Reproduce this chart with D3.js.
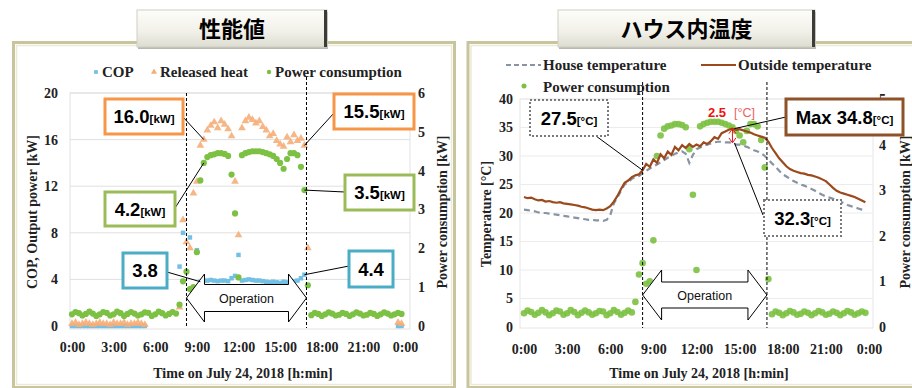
<!DOCTYPE html>
<html>
<head>
<meta charset="utf-8">
<script src="https://cdn.jsdelivr.net/npm/d3@7"></script>
<style>
  body { margin: 0; background: #ffffff; }
  svg { display: block; }
</style>
</head>
<body>
<script>
// ---- Data: 15-minute samples on July 24, 2018 (index i -> i/4 hours) ----
const hours = d3.range(96).map(i => i / 4);

// Power consumption [kW]
const power = [
  0.30,0.36,0.33,0.27,0.31,0.37,0.32,0.26,0.30,0.36,0.34,0.27,0.30,0.37,0.33,0.26,
  0.31,0.36,0.32,0.27,0.30,0.35,0.34,0.26,0.30,0.37,0.33,0.27,0.31,0.36,0.32,
  0.55,1.15,1.40,0.95,1.00,1.90,3.75,4.20,4.35,4.40,4.42,4.45,4.45,4.43,4.38,3.90,
  2.90,1.25,4.40,4.45,4.48,4.50,4.50,4.50,4.48,4.45,4.42,4.38,4.30,4.20,4.05,4.30,
  4.45,4.45,4.40,4.10,3.50,1.05,
  0.28,0.34,0.31,0.26,0.30,0.35,0.32,0.27,0.29,0.34,0.31,0.26,0.30,0.35,0.32,0.27,
  0.29,0.34,0.31,0.26,0.30,0.35,0.32,0.27,0.30,0.34,0.31
];

// Released heat [kW]
const heat = [
  0.2,0.3,0.1,0.2,0.3,0.2,0.1,0.2,0.3,0.2,0.2,0.1,0.3,0.2,0.2,0.3,0.1,0.2,0.2,0.3,0.2,0.1,
  null,null,null,null,null,null,null,null,null,
  1.6,9.1,7.2,6.7,11.4,12.4,15.5,16.0,16.8,17.2,17.5,17.0,17.6,17.3,16.9,16.3,
  12.4,7.8,17.0,17.6,17.9,17.7,17.4,17.6,17.1,16.8,16.3,16.5,15.9,15.6,15.4,16.2,
  15.8,16.4,15.9,16.1,15.5,6.7,
  null,null,null,null,null,null,null,null,null,null,null,null,null,
  null,null,null,null,null,null,null,null,null,null,null,null,
  0.3,0.2
];

// COP
const cop = [
  0.0,0.0,0.0,0.0,0.0,0.0,0.0,0.0,0.0,0.0,0.0,0.0,0.0,0.0,0.0,0.0,0.0,0.0,0.0,0.0,0.0,0.0,
  null,null,null,null,null,null,null,null,null,
  5.1,8.0,null,7.6,null,6.5,3.8,3.9,3.9,3.95,3.9,3.85,3.9,3.9,3.85,4.1,
  4.3,6.1,3.9,3.95,4.0,3.95,3.9,3.9,3.85,3.8,3.75,3.8,3.75,3.7,3.8,3.75,
  3.8,3.85,3.9,4.1,4.4,null,
  null,null,null,null,null,null,null,null,null,null,null,null,null,
  null,null,null,null,null,null,null,null,null,null,null,null,
  0.0,0.0
];

// Outside temperature [°C]
const outsideTemp = [
  22.8,22.6,22.7,22.4,22.2,22.3,22.0,22.1,21.9,21.8,21.9,21.7,21.6,21.5,21.4,21.3,
  21.1,21.0,20.8,20.6,20.5,20.6,20.5,20.8,21.2,22.0,23.0,24.2,25.3,25.7,26.3,26.6,
  26.8,27.5,28.6,28.1,29.4,28.8,30.3,29.6,30.8,30.2,31.6,31.0,31.9,31.4,32.1,31.6,
  32.0,31.7,32.4,32.1,32.6,33.3,33.0,34.0,34.3,34.6,34.8,34.6,34.7,34.5,34.3,34.1,
  33.8,33.6,33.4,33.2,32.5,31.4,30.5,29.6,28.9,28.2,27.7,27.4,27.2,27.0,26.9,26.7,
  26.6,26.4,26.2,25.9,25.6,25.0,24.4,23.9,23.6,23.4,23.2,23.0,22.8,22.5,22.2,21.9
];

// House temperature [°C]
const houseTemp = [
  20.6,20.5,20.4,20.3,20.1,20.0,20.0,19.9,19.8,19.7,19.6,19.5,19.4,19.3,19.2,19.1,
  19.0,18.9,18.8,18.8,18.7,18.7,18.6,18.8,19.6,21.7,22.7,23.9,25.0,25.4,26.0,26.3,
  26.5,27.0,27.4,27.8,28.2,28.5,28.9,29.3,29.7,30.0,30.4,30.6,30.8,30.4,28.8,30.2,
  31.2,31.5,31.8,32.0,32.2,32.4,32.5,32.5,32.4,32.4,32.3,32.0,32.0,31.8,31.6,31.3,
  31.0,30.8,30.5,30.0,29.4,28.7,28.1,27.4,26.8,26.4,26.0,25.6,25.3,25.0,24.8,24.5,
  24.2,23.9,23.5,23.2,22.9,22.7,22.5,22.3,22.0,21.7,21.4,21.2,21.0,20.8,20.6,20.4
];

// Axis ticks and labels
const timeTicks = [0, 3, 6, 9, 12, 15, 18, 21, 24];
const timeLabels = ["0:00", "3:00", "6:00", "9:00", "12:00", "15:00", "18:00", "21:00", "0:00"];
const leftTicksL = [0, 4, 8, 12, 16, 20];
const rightTicksL = [0, 1, 2, 3, 4, 5, 6];
const leftTicksR = [0, 5, 10, 15, 20, 25, 30, 35, 40];
const rightTicksR = [0, 1, 2, 3, 4, 5];

// Operation period [h]
const opStart = 8.25, opEnd = 16.9;

// ---- Styles ----
const SERIF = "'Liberation Serif','Times New Roman',serif";
const SANS = "'Liberation Sans',Arial,sans-serif";
const CJK = "'Noto Sans CJK JP',sans-serif";
const C_COP = "#72c0e3", C_HEAT = "#f6ae78", C_PWR = "#7cc143";
const C_OUT = "#9b4a1d", C_HOUSE = "#8893a3";
const fmtInt = d3.format("d");

const svg = d3.select("body").append("svg").attr("width", 912).attr("height", 388);
const defs = svg.append("defs");
const tg = defs.append("linearGradient").attr("id", "tgrad").attr("x1", 0).attr("y1", 0).attr("x2", 0).attr("y2", 1);
tg.append("stop").attr("offset", "0%").attr("stop-color", "#fdfdfa");
tg.append("stop").attr("offset", "60%").attr("stop-color", "#f1f0e8");
tg.append("stop").attr("offset", "100%").attr("stop-color", "#dddcd0");

const pts = arr => hours.map((h, i) => [h, arr[i]]).filter(d => d[1] != null);
const sym = (type, size) => d3.symbol().type(type).size(size)();

function panel(x, y, w, h) {
  svg.append("rect").attr("x", x).attr("y", y).attr("width", w).attr("height", h)
    .attr("fill", "#ffffff").attr("stroke", "#c8c49c").attr("stroke-width", 3);
  svg.append("rect").attr("x", x + 3).attr("y", y + 3).attr("width", w - 6).attr("height", h - 6)
    .attr("fill", "none").attr("stroke", "#ebe9d8").attr("stroke-width", 1.5);
}

function titleBox(x, y, w, h, label) {
  svg.append("rect").attr("x", x + 1).attr("y", y + 2).attr("width", w).attr("height", h).attr("fill", "#b8b8ae");
  svg.append("rect").attr("x", x).attr("y", y).attr("width", w).attr("height", h)
    .attr("fill", "url(#tgrad)").attr("stroke", "#cfcfc6").attr("stroke-width", 1);
  svg.append("rect").attr("x", x + w - 3).attr("y", y).attr("width", 3).attr("height", h).attr("fill", "#3b3b37");
  svg.append("text").attr("x", x + w / 2).attr("y", y + h / 2 + 8).attr("text-anchor", "middle")
    .attr("font-family", CJK).attr("font-weight", 700).attr("font-size", 22).attr("fill", "#000").text(label);
}

function styleAxis(g) {
  g.select(".domain").remove();
  g.selectAll(".tick line").remove();
  g.selectAll("text").attr("font-family", SERIF).attr("font-weight", 700).attr("font-size", 14).attr("fill", "#222");
}

function vTitle(x, y, label) {
  svg.append("text").attr("transform", `translate(${x},${y}) rotate(-90)`).attr("dy", "0.35em")
    .attr("text-anchor", "middle").attr("font-family", SERIF).attr("font-weight", 700)
    .attr("font-size", 14).attr("fill", "#222").text(label);
}

function annBox(x, y, w, h, stroke, dashed, num, unit, strokeW) {
  svg.append("rect").attr("x", x).attr("y", y).attr("width", w).attr("height", h)
    .attr("fill", "#ffffff").attr("stroke", stroke).attr("stroke-width", strokeW || 3)
    .attr("stroke-dasharray", dashed ? "2,2" : null);
  const t = svg.append("text").attr("x", x + w / 2).attr("y", y + h / 2 + 6.5).attr("text-anchor", "middle")
    .attr("font-family", SANS).attr("font-weight", 700).attr("fill", "#000");
  t.append("tspan").attr("font-size", 18.5).text(num);
  if (unit) t.append("tspan").attr("font-size", 11.5).text(unit);
}

function leader(x1, y1, x2, y2) {
  svg.append("line").attr("x1", x1).attr("y1", y1).attr("x2", x2).attr("y2", y2)
    .attr("stroke", "#000").attr("stroke-width", 1);
}

function opArrow(x1, x2, yc, hh, sh, hl) {
  const p = `M${x1},${yc} L${x1 + hl},${yc - hh} L${x1 + hl},${yc - sh} L${x2 - hl},${yc - sh} L${x2 - hl},${yc - hh} ` +
            `L${x2},${yc} L${x2 - hl},${yc + hh} L${x2 - hl},${yc + sh} L${x1 + hl},${yc + sh} L${x1 + hl},${yc + hh} Z`;
  svg.append("path").attr("d", p).attr("fill", "#ffffff").attr("stroke", "#000").attr("stroke-width", 1);
  svg.append("text").attr("x", (x1 + x2) / 2).attr("y", yc + 4.5).attr("text-anchor", "middle")
    .attr("font-family", SANS).attr("font-size", 12.5).attr("fill", "#111").text("Operation");
}

function dashV(x, y1, y2) {
  svg.append("line").attr("x1", x).attr("x2", x).attr("y1", y1).attr("y2", y2)
    .attr("stroke", "#000").attr("stroke-width", 1).attr("stroke-dasharray", "3,2");
}

// ================= Left panel: 性能値 =================
panel(13.5, 42.5, 441, 345);

const xL = d3.scaleLinear().domain([0, 24]).range([72, 405]);
const yL = d3.scaleLinear().domain([0, 20]).range([326, 93]);
const yL2 = d3.scaleLinear().domain([0, 6]).range([326, 93]);

// plot frame and gridlines
svg.append("rect").attr("x", 70).attr("y", 93).attr("width", 340).attr("height", 236)
  .attr("fill", "none").attr("stroke", "#e2e2e2");
svg.append("g").selectAll("line").data(leftTicksL.slice(1)).join("line")
  .attr("x1", 70).attr("x2", 410).attr("y1", d => yL(d)).attr("y2", d => yL(d))
  .attr("stroke", "#e0e0e0");

styleAxis(svg.append("g").attr("transform", "translate(70,0)")
  .call(d3.axisLeft(yL).tickValues(leftTicksL).tickFormat(fmtInt).tickSize(0).tickPadding(12)));
styleAxis(svg.append("g").attr("transform", "translate(410,0)")
  .call(d3.axisRight(yL2).tickValues(rightTicksL).tickFormat(fmtInt).tickSize(0).tickPadding(8)));
styleAxis(svg.append("g").attr("transform", "translate(0,330)")
  .call(d3.axisBottom(xL).tickValues(timeTicks).tickFormat((d, i) => timeLabels[i]).tickSize(0).tickPadding(12)));

vTitle(32, 212, "COP, Output power [kW]");
vTitle(442, 212, "Power consumption [kW]");
svg.append("text").attr("x", 243).attr("y", 378).attr("text-anchor", "middle")
  .attr("font-family", SERIF).attr("font-weight", 700).attr("font-size", 14).attr("fill", "#222")
  .text("Time on July 24, 2018 [h:min]");

// legend
const legL = svg.append("g").attr("font-family", SERIF).attr("font-weight", 700).attr("font-size", 15).attr("fill", "#222");
legL.append("path").attr("d", sym(d3.symbolSquare, 14)).attr("transform", "translate(96,72)").attr("fill", C_COP);
legL.append("text").attr("x", 102).attr("y", 77).text("COP");
legL.append("path").attr("d", sym(d3.symbolTriangle, 16)).attr("transform", "translate(154,72)").attr("fill", C_HEAT);
legL.append("text").attr("x", 160).attr("y", 77).text("Released heat");
legL.append("circle").attr("cx", 269).attr("cy", 72).attr("r", 2.2).attr("fill", C_PWR);
legL.append("text").attr("x", 275).attr("y", 77).text("Power consumption");

// series
const gL = svg.append("g");
gL.selectAll(".cop").data(pts(cop)).join("path").attr("class", "cop")
  .attr("d", sym(d3.symbolSquare, 20)).attr("fill", C_COP)
  .attr("transform", d => `translate(${xL(d[0])},${yL(d[1])})`);
gL.selectAll(".heat").data(pts(heat)).join("path").attr("class", "heat")
  .attr("d", sym(d3.symbolTriangle, 26)).attr("fill", C_HEAT).attr("opacity", 0.9)
  .attr("transform", d => `translate(${xL(d[0])},${yL(d[1])})`);
gL.selectAll(".pwr").data(pts(power)).join("circle").attr("class", "pwr")
  .attr("cx", d => xL(d[0])).attr("cy", d => yL2(d[1])).attr("r", 3.1).attr("fill", C_PWR);

dashV(xL(opStart), 93, 328);
dashV(xL(opEnd), 77, 328);
opArrow(xL(opStart), xL(opEnd), 298, 24, 13.5, 18);

// annotations (values taken from the series they point to)
const iStart = 38, iStartCop = 37, iEnd = 67;
leader(183, 117, xL(hours[iStart]), yL(heat[iStart]));
annBox(105, 99, 78, 35, "#f79646", false, heat[iStart].toFixed(1), "[kW]");
leader(334, 113, xL(hours[iEnd]), yL(heat[iEnd]));
annBox(334, 94, 80, 35, "#f79646", false, heat[iEnd].toFixed(1), "[kW]");
leader(175, 208, xL(hours[iStart]), yL2(power[iStart]));
annBox(105, 192, 70, 34, "#9bbb59", false, power[iStart].toFixed(1), "[kW]");
leader(345, 192, xL(hours[iEnd]), yL2(power[iEnd]));
annBox(345, 175, 69, 35, "#9bbb59", false, power[iEnd].toFixed(1), "[kW]");
leader(167, 272, xL(hours[iStartCop]), yL(cop[iStartCop]));
annBox(123, 253, 44, 35, "#4bacc6", false, cop[iStartCop].toFixed(1), null);
leader(349, 266, xL(hours[iEnd]), yL(cop[iEnd]));
annBox(349, 251, 44, 36, "#4bacc6", false, cop[iEnd].toFixed(1), null);

// ================= Right panel: ハウス内温度 =================
panel(468, 42.5, 470, 345);

const xR = d3.scaleLinear().domain([0, 24]).range([524, 869]);
const yR = d3.scaleLinear().domain([0, 40]).range([327, 99]);
const yR2 = d3.scaleLinear().domain([0, 5]).range([327, 99]);

svg.append("rect").attr("x", 520).attr("y", 99).attr("width", 353).attr("height", 229)
  .attr("fill", "none").attr("stroke", "#e6e6e6");
svg.append("g").selectAll("line").data(leftTicksR.slice(1)).join("line")
  .attr("x1", 520).attr("x2", 873).attr("y1", d => yR(d)).attr("y2", d => yR(d))
  .attr("stroke", "#ececec");

styleAxis(svg.append("g").attr("transform", "translate(520,0)")
  .call(d3.axisLeft(yR).tickValues(leftTicksR).tickFormat(fmtInt).tickSize(0).tickPadding(7)));
styleAxis(svg.append("g").attr("transform", "translate(873,0)")
  .call(d3.axisRight(yR2).tickValues(rightTicksR).tickFormat(fmtInt).tickSize(0).tickPadding(6)));
styleAxis(svg.append("g").attr("transform", "translate(0,331)")
  .call(d3.axisBottom(xR).tickValues(timeTicks).tickFormat((d, i) => timeLabels[i]).tickSize(0).tickPadding(13)));

vTitle(486, 214, "Temperature [°C]");
vTitle(905, 212, "Power consumption [kW]");
svg.append("text").attr("x", 699).attr("y", 378).attr("text-anchor", "middle")
  .attr("font-family", SERIF).attr("font-weight", 700).attr("font-size", 14).attr("fill", "#222")
  .text("Time on July 24, 2018 [h:min]");

// legend
const legR = svg.append("g").attr("font-family", SERIF).attr("font-weight", 700).attr("font-size", 15).attr("fill", "#222");
legR.append("line").attr("x1", 506).attr("x2", 541).attr("y1", 65).attr("y2", 65)
  .attr("stroke", C_HOUSE).attr("stroke-width", 2).attr("stroke-dasharray", "5,3");
legR.append("text").attr("x", 543).attr("y", 70).text("House temperature");
legR.append("line").attr("x1", 701).attr("x2", 736).attr("y1", 65).attr("y2", 65)
  .attr("stroke", C_OUT).attr("stroke-width", 2.2);
legR.append("text").attr("x", 738).attr("y", 70).text("Outside temperature");
legR.append("circle").attr("cx", 524).attr("cy", 86).attr("r", 2.5).attr("fill", C_PWR);
legR.append("text").attr("x", 543).attr("y", 92).text("Power consumption");

// series
const gR = svg.append("g");
gR.selectAll(".pwr").data(pts(power)).join("circle").attr("class", "pwr")
  .attr("cx", d => xR(d[0])).attr("cy", d => yR2(d[1])).attr("r", 3.3)
  .attr("fill", C_PWR).attr("opacity", 0.9);
const line = d3.line().x((d, i) => xR(hours[i])).y(d => yR(d));
gR.append("path").datum(houseTemp).attr("d", line).attr("fill", "none")
  .attr("stroke", C_HOUSE).attr("stroke-width", 2.2).attr("stroke-dasharray", "6,4");
gR.append("path").datum(outsideTemp).attr("d", line).attr("fill", "none")
  .attr("stroke", C_OUT).attr("stroke-width", 2.2);

dashV(xR(opStart), 82, 328);
dashV(xR(opEnd), 82, 328);
opArrow(xR(opStart), xR(opEnd), 295, 25, 13, 19);

// annotations
const iOp = 33, iMax = 58;
leader(596, 136, xR(hours[iOp]), yR(outsideTemp[iOp]));
annBox(530, 100, 78, 36, "#7a7a7a", true, outsideTemp[iOp].toFixed(1), "[°C]", 2);

const xm = xR(hours[iMax]);
leader(786, 117, xm + 2, yR(outsideTemp[iMax]));
annBox(786, 99, 117, 36, "#8e5128", false, "Max " + outsideTemp[iMax].toFixed(1), "[°C]", 3);
leader(763, 215, xm + 2, yR(houseTemp[iMax]));
annBox(764, 200, 77, 36, "#7a7a7a", true, houseTemp[iMax].toFixed(1), "[°C]", 2);

// temperature difference marker
const yTop = yR(outsideTemp[iMax]), yBot = yR(houseTemp[iMax]);
svg.append("line").attr("x1", xm).attr("x2", xm).attr("y1", yTop + 1).attr("y2", yBot - 1)
  .attr("stroke", "#e8131b").attr("stroke-width", 1);
svg.append("path").attr("d", `M${xm - 3.5},${yTop + 5} L${xm},${yTop} L${xm + 3.5},${yTop + 5}`)
  .attr("fill", "none").attr("stroke", "#e8131b").attr("stroke-width", 1);
svg.append("path").attr("d", `M${xm - 3.5},${yBot - 5} L${xm},${yBot} L${xm + 3.5},${yBot - 5}`)
  .attr("fill", "none").attr("stroke", "#e8131b").attr("stroke-width", 1);
const dt = svg.append("text").attr("x", 708).attr("y", 117).attr("font-family", SANS);
dt.append("tspan").attr("font-weight", 700).attr("font-size", 13).attr("fill", "#f01010")
  .text((outsideTemp[iMax] - houseTemp[iMax]).toFixed(1));
dt.append("tspan").attr("dx", 8).attr("font-size", 12.5).attr("fill", "#f06060").text("[°C]");

// ================= Title boxes =================
titleBox(137, 10, 190, 37, "性能値");
titleBox(558, 10, 257, 37, "ハウス内温度");
</script>
</body>
</html>
